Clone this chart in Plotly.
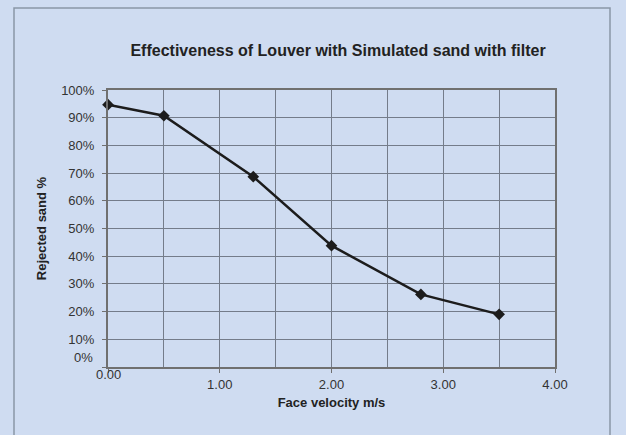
import plotly.graph_objects as go

velocity = [0.0, 0.5, 1.3, 2.0, 2.8, 3.5]
rejected = [0.947, 0.907, 0.687, 0.438, 0.262, 0.190]

x_tickvals = [0, 1, 2, 3, 4]
x_ticktext = ["0.00", "1.00", "2.00", "3.00", "4.00"]
x_minor_step = 0.5
y_tickvals = [0, 0.1, 0.2, 0.3, 0.4, 0.5, 0.6, 0.7, 0.8, 0.9, 1.0]
y_ticktext = ["0%", "10%", "20%", "30%", "40%", "50%", "60%", "70%", "80%", "90%", "100%"]

BG = "#cfdcf1"
GRID = "#747c8a"
AXIS = "#707070"
FONT = "Liberation Sans, Arial, sans-serif"
TICKFONT = dict(family=FONT, size=13, color="#333333")

fig = go.Figure()
fig.add_trace(go.Scatter(
    x=velocity, y=rejected, mode="lines+markers",
    line=dict(color="#1c1c1c", width=2.5),
    marker=dict(symbol="diamond", size=9, color="#1c1c1c"),
    showlegend=False, cliponaxis=False,
))

fig.update_layout(
    width=626, height=435,
    paper_bgcolor=BG, plot_bgcolor=BG,
    margin=dict(l=108, r=71, t=90, b=68),
    font=dict(family=FONT, size=13, color="#333333"),
    title=dict(text="<b>Effectiveness of Louver with Simulated sand with filter</b>",
               x=0.54, xanchor="center", y=0.885, yanchor="middle",
               font=dict(family=FONT, size=16, color="#222222")),
    xaxis=dict(range=[0, 4], tickvals=x_tickvals,
               ticktext=[""] + x_ticktext[1:],
               showgrid=True, gridcolor=GRID, gridwidth=1,
               minor=dict(tick0=0, dtick=x_minor_step, showgrid=True,
                          gridcolor=GRID, gridwidth=1, ticks=""),
               showline=True, linecolor=AXIS, linewidth=2, mirror=True,
               ticks="outside", ticklen=4, tickcolor=AXIS,
               zeroline=False,
               title=dict(text="<b>Face velocity m/s</b>", standoff=7,
                          font=dict(family=FONT, size=13, color="#222222"))),
    yaxis=dict(range=[0, 1], tickvals=y_tickvals,
               ticktext=[""] + y_ticktext[1:],
               showgrid=True, gridcolor=GRID, gridwidth=1,
               showline=True, linecolor=AXIS, linewidth=2, mirror=True,
               ticks="outside", ticklen=4, tickcolor=AXIS,
               ticklabelstandoff=5,
               zeroline=False,
               title=dict(text="<b>Rejected sand %</b>", standoff=12,
                          font=dict(family=FONT, size=13, color="#222222"))),
)

# Excel-style offsets of the origin labels
fig.add_annotation(x=x_tickvals[0], y=0, xref="x", yref="paper", text=x_ticktext[0],
                   showarrow=False, yshift=-7, yanchor="middle", font=TICKFONT)
fig.add_annotation(x=0, y=y_tickvals[0], xref="paper", yref="y", text=y_ticktext[0],
                   showarrow=False, xshift=-13, yshift=10, xanchor="right", yanchor="middle",
                   font=TICKFONT)

fig.add_shape(type="rect", xref="paper", yref="paper",
              x0=(14 - 108) / 447, x1=(610 - 108) / 447,
              y0=-0.6, y1=(367 - 8) / 277,
              line=dict(color="#8a96a6", width=1.5), layer="below")

fig.write_html("out.html", config={"displayModeBar": False},
               post_script="document.body.style.margin='0';document.body.style.overflow='hidden';")
